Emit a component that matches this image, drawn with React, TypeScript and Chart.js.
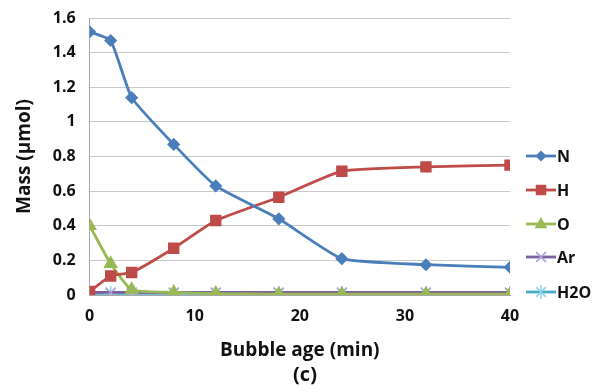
import React, { useEffect, useRef } from "react";
import { Chart, registerables } from "chart.js";

Chart.register(...registerables);

const ages = [0, 2, 4, 8, 12, 18, 24, 32, 40];
const nValues = [1.52, 1.47, 1.14, 0.87, 0.63, 0.44, 0.21, 0.175, 0.16];
const hValues = [0.02, 0.11, 0.13, 0.27, 0.43, 0.565, 0.715, 0.74, 0.75];
const oValues = [0.4, 0.18, 0.03, 0.015, 0.008, 0.005, 0.005, 0.005, 0.005];
const arValues = [0.015, 0.015, 0.015, 0.015, 0.015, 0.015, 0.015, 0.015, 0.015];
const h2oValues = [0.01, 0.01, 0.01, 0.01, 0.01, 0.01, 0.01, 0.01, 0.01];
const seriesNames = ["N", "H", "O", "Ar", "H2O"];
const xTicks = [0, 10, 20, 30, 40];
const panelLabel = "(c)";

const FONT = "'Open Sans', 'DejaVu Sans', sans-serif";

function drawMarker(ctx: CanvasRenderingContext2D, style: string, x: number, y: number, r: number) {
  ctx.beginPath();
  if (style === "rectRot") {
    ctx.moveTo(x, y - r);
    ctx.lineTo(x + r, y);
    ctx.lineTo(x, y + r);
    ctx.lineTo(x - r, y);
    ctx.closePath();
    ctx.fill();
  } else if (style === "rect") {
    ctx.rect(x - r * 0.75, y - r * 0.75, r * 1.5, r * 1.5);
    ctx.fill();
  } else if (style === "triangle") {
    ctx.moveTo(x, y - r);
    ctx.lineTo(x + r * 0.9, y + r * 0.6);
    ctx.lineTo(x - r * 0.9, y + r * 0.6);
    ctx.closePath();
    ctx.fill();
  } else if (style === "crossRot") {
    const d = r * 0.7;
    ctx.moveTo(x - d, y - d);
    ctx.lineTo(x + d, y + d);
    ctx.moveTo(x + d, y - d);
    ctx.lineTo(x - d, y + d);
    ctx.stroke();
  } else if (style === "star") {
    const d = r * 0.7;
    ctx.moveTo(x - d, y - d);
    ctx.lineTo(x + d, y + d);
    ctx.moveTo(x + d, y - d);
    ctx.lineTo(x - d, y + d);
    ctx.moveTo(x, y - r);
    ctx.lineTo(x, y + r);
    ctx.stroke();
  }
}

const legendPlugin = {
  id: "sideLegend",
  afterDraw(chart: any) {
    const ctx = chart.ctx;
    const x0 = 526;
    const rowY = [156, 190, 224, 257, 292];
    ctx.save();
    chart.data.datasets.forEach((ds: any, i: number) => {
      const y = rowY[i];
      ctx.strokeStyle = ds.borderColor;
      ctx.lineWidth = 2.8;
      ctx.beginPath();
      ctx.moveTo(x0, y);
      ctx.lineTo(x0 + 30, y);
      ctx.stroke();
      ctx.fillStyle = ds.pointBackgroundColor;
      ctx.strokeStyle = ds.pointBorderColor;
      ctx.lineWidth = 1.5;
      drawMarker(ctx, ds.pointStyle, x0 + 15, y, ds.pointRadius);
      ctx.fillStyle = "#111";
      ctx.font = `bold 16px ${FONT}`;
      ctx.textAlign = "left";
      ctx.textBaseline = "middle";
      ctx.fillText(ds.label, x0 + 31, y + 1);
    });
    ctx.font = `bold 20px ${FONT}`;
    ctx.textAlign = "center";
    ctx.textBaseline = "middle";
    ctx.fillStyle = "#111";
    ctx.fillText(panelLabel, 305, 375);
    ctx.restore();
  },
};

function mk(label: string, values: number[], color: string, marker: string, markerColor: string, radius: number) {
  return {
    label,
    data: ages.map((a, i) => ({ x: a, y: values[i] })),
    borderColor: color,
    backgroundColor: color,
    pointBackgroundColor: markerColor,
    pointBorderColor: markerColor,
    pointStyle: marker,
    pointRadius: radius,
    pointBorderWidth: 1.5,
    borderWidth: 2.8,
    tension: 0.15,
  };
}

export default function App() {
  const ref = useRef<HTMLCanvasElement>(null);
  useEffect(() => {
    if (!ref.current) return;
    const chart = new Chart(ref.current, {
      type: "line",
      data: {
        datasets: [
          mk(seriesNames[0], nValues, "#4a7ebb", "rectRot", "#4a7ebb", 5.5),
          mk(seriesNames[1], hValues, "#be4b48", "rect", "#be4b48", 7),
          mk(seriesNames[2], oValues, "#98b954", "triangle", "#98b954", 7),
          mk(seriesNames[3], arValues, "#7d60a0", "crossRot", "#a9a0d8", 7),
          mk(seriesNames[4], h2oValues, "#46aac5", "star", "#8fd0e8", 7),
        ] as any,
      },
      options: {
        animation: false,
        responsive: false,
        layout: { padding: { top: 0, right: 104, left: 6, bottom: 30 } },
        plugins: {
          legend: { display: false },
          tooltip: { enabled: false },
        },
        scales: {
          x: {
            type: "linear",
            min: 0,
            max: 40,
            afterBuildTicks: (axis: any) => {
              axis.ticks = xTicks.map((v) => ({ value: v }));
            },
            grid: { display: false, drawTicks: false },
            border: { color: "#a6a6a6", width: 1 },
            ticks: {
              font: { family: FONT, size: 16, weight: "bold" },
              color: "#111",
              padding: 12,
              maxRotation: 0,
            },
            title: {
              display: true,
              text: "Bubble age (min)",
              font: { family: FONT, size: 19, weight: "bold" },
              color: "#111",
              padding: { top: 1, bottom: 0 },
            },
          },
          y: {
            min: 0,
            max: 1.6,
            ticks: {
              stepSize: 0.2,
              font: { family: FONT, size: 16, weight: "bold", lineHeight: 0.5 },
              color: "#111",
              padding: 14,
              callback: (v: any) => String(Math.round(Number(v) * 10) / 10),
            },
            grid: { color: "#c8c8c8", drawTicks: false, lineWidth: 1 },
            border: { color: "#a6a6a6", width: 1 },
            title: {
              display: true,
              text: "Mass (µmol)",
              font: { family: FONT, size: 19, weight: "bold" },
              color: "#111",
              padding: { top: 7, bottom: 3 },
            },
          },
        },
      } as any,
      plugins: [legendPlugin],
    });
    return () => chart.destroy();
  }, []);
  return (
    <div style={{ position: "fixed", left: 0, top: 0, width: 614, height: 392, background: "#fff" }}>
      <canvas ref={ref} width={614} height={392} />
    </div>
  );
}
